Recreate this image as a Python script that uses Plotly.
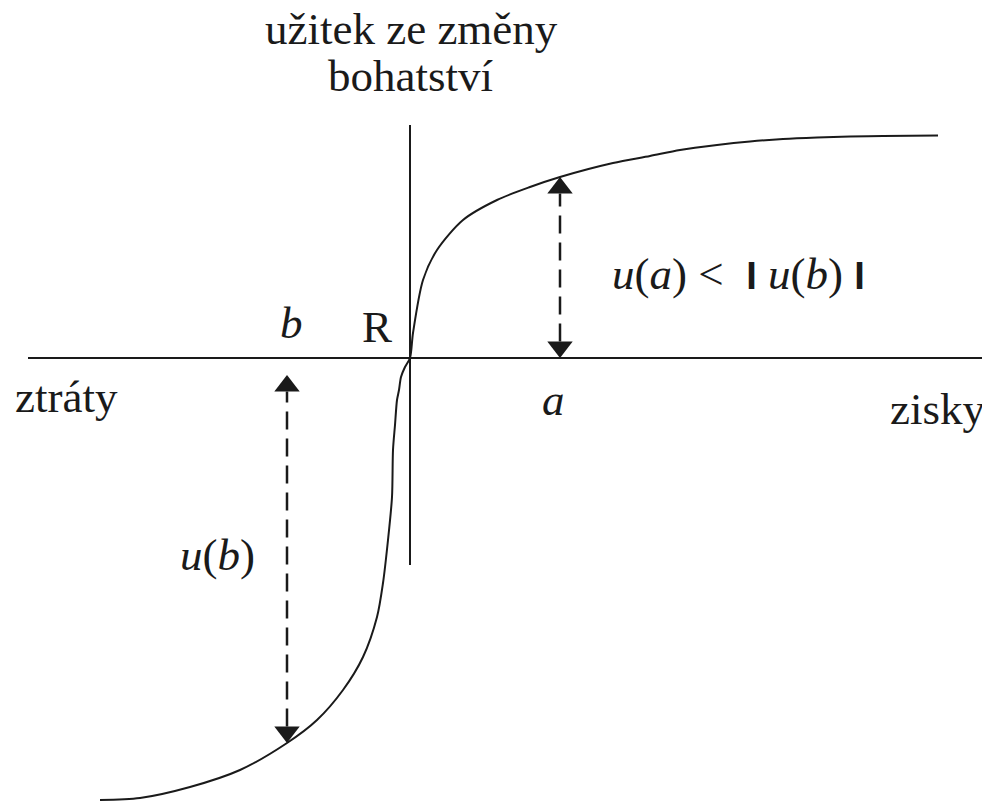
"""
Value function (prospect theory) sketch with Plotly
"""
import plotly.graph_objects as go

# curve, origin at the reference point R
gain_x = [0, 3, 13, 27, 53, 87, 120, 150, 203, 240, 270, 307, 340, 373, 407, 440, 473, 528]
gain_u = [0, 25, 78, 108, 138, 158, 171, 181, 195, 202, 208, 213, 216.5, 219, 220.5, 221.5, 222, 222.5]
loss_x = [-310, -270, -220, -170, -123, -93, -67, -47, -33, -27, -22, -18, -17, -15, -13, -11, -9, -5, 0]
loss_u = [-442, -440, -429, -412, -385, -362, -332, -299, -259, -225, -182, -139, -92, -67, -42, -32, -19, -9, 0]

# axis extents
wealth_axis = [-382, 575]
utility_axis = [-207, 233]

# the two marked outcomes: gain a, loss b
a_x, a_u = 150, 181
b_x, b_u = -123, -385
b_gap = -17  # arrow for b starts a little below the axis

FONT = "Liberation Serif"
INK = "#1a1a1a"
HEAD = 22          # triangle marker size
R_HEAD = HEAD / 2  # distance from marker centre to tip

# the page body has an 8px margin, so the figure is drawn 8px smaller
# and the ranges are set so that R lands where it sits in the picture
PAGE_PAD = 8
W, H = 990 - PAGE_PAD, 802 - PAGE_PAD
R_LEFT, R_TOP = 410 - PAGE_PAD, 358 - PAGE_PAD

fig = go.Figure()

# axes
fig.add_trace(go.Scatter(x=wealth_axis, y=[0, 0], mode='lines',
                         line=dict(color=INK, width=2), hoverinfo='skip'))
fig.add_trace(go.Scatter(x=[0, 0], y=utility_axis, mode='lines',
                         line=dict(color=INK, width=2), hoverinfo='skip'))

# value function
fig.add_trace(go.Scatter(x=loss_x + gain_x[1:], y=loss_u + gain_u[1:], mode='lines',
                         line=dict(color=INK, width=2, shape='spline', smoothing=0.8),
                         hoverinfo='skip'))


def double_arrow(x, y_low, y_high):
    # dashed shaft between the two heads
    fig.add_trace(go.Scatter(x=[x, x], y=[y_low + 1.5 * R_HEAD, y_high - 1.5 * R_HEAD],
                             mode='lines', line=dict(color=INK, width=2.5, dash='18px,9px'),
                             hoverinfo='skip'))
    fig.add_trace(go.Scatter(x=[x], y=[y_high - R_HEAD], mode='markers',
                             marker=dict(symbol='triangle-up', size=HEAD, color=INK,
                                         line=dict(width=0)),
                             hoverinfo='skip'))
    fig.add_trace(go.Scatter(x=[x], y=[y_low + R_HEAD], mode='markers',
                             marker=dict(symbol='triangle-down', size=HEAD, color=INK,
                                         line=dict(width=0)),
                             hoverinfo='skip'))


double_arrow(a_x, 0, a_u)
double_arrow(b_x, b_u, b_gap)

BAR = '<span style="font-family:Liberation Sans;font-size:38px;font-weight:bold">I</span>'
labels = [
    ("užitek ze změny", 1, 329),
    ("bohatství", 0, 282),
    ("<i>b</i>", -119, 35),
    ("R", -33, 31),
    ("ztráty", -344, -39),
    ("<i>a</i>", 143, -42),
    ("zisky", 527, -51),
    ("<i>u</i>(<i>a</i>) &lt;&nbsp; " + BAR + " <i>u</i>(<i>b</i>) " + BAR, 328, 84),
    ("<i>u</i>(<i>b</i>)", -193, -197),
]
for text, x, y in labels:
    fig.add_annotation(x=x, y=y, text=text, showarrow=False,
                       xanchor='center', yanchor='middle', borderpad=0,
                       font=dict(family=FONT, size=45, color=INK))

fig.update_layout(
    width=W,
    height=H,
    margin=dict(l=0, r=0, t=0, b=0),
    showlegend=False,
    paper_bgcolor='white',
    plot_bgcolor='white',
    xaxis=dict(range=[-R_LEFT, W - R_LEFT], visible=False, fixedrange=True),
    yaxis=dict(range=[R_TOP - H, R_TOP], visible=False, fixedrange=True),
)

fig.write_html("out.html")
